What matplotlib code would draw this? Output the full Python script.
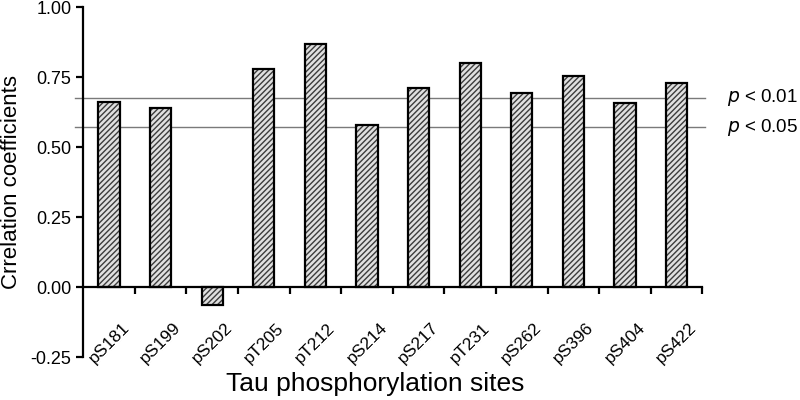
import numpy as np
import matplotlib.pyplot as plt
from matplotlib.transforms import blended_transform_factory

plt.rcParams['font.family'] = ['Liberation Sans', 'DejaVu Sans']
plt.rcParams['axes.unicode_minus'] = False

# Dados
sites = ['pS181', 'pS199', 'pS202', 'pT205', 'pT212', 'pS214',
         'pS217', 'pT231', 'pS262', 'pS396', 'pS404', 'pS422']
coef = [0.661, 0.640, -0.064, 0.778, 0.867, 0.577,
        0.709, 0.799, 0.692, 0.754, 0.657, 0.728]
p_values = [0.675, 0.570]
p_labels = ['0.01', '0.05']
y_ticks = [-0.25, 0.0, 0.25, 0.50, 0.75, 1.00]

fig = plt.figure(figsize=(8, 4), dpi=100)
ax = fig.add_axes([0.104, 0.1075, 0.774, 0.875])

x = np.arange(len(sites))
# preenchimento hachurado
ax.bar(x, coef, width=0.41, color='#e0e0e0', edgecolor='#3c3c3c',
       hatch='//////', linewidth=0, zorder=2)
# contorno preto
ax.bar(x, coef, width=0.41, fill=False, edgecolor='black',
       linewidth=1.6, zorder=3)

ax.set_xlim(-0.5, 11.5)
ax.set_ylim(-0.25, 1.0)

# linhas de significancia
trans = blended_transform_factory(ax.transAxes, ax.transData)
for val, lab in zip(p_values, p_labels):
    ax.plot([-0.013, 1.005], [val, val], color='#7a7a7a', linewidth=1.0,
            transform=trans, clip_on=False, zorder=1)
    ax.text(1.04, val, r'$\mathit{p}$ < ' + lab, transform=trans,
            ha='left', va='center', fontsize=13.5)

# eixos
for s in ['top', 'right']:
    ax.spines[s].set_visible(False)
ax.spines['bottom'].set_position(('data', 0))
ax.spines['left'].set_linewidth(1.6)
ax.spines['bottom'].set_linewidth(1.6)

ax.set_yticks(y_ticks)
ax.set_yticklabels(['%.2f' % v for v in y_ticks], fontsize=13)
ax.set_xticks(x + 0.5)
ax.set_xticklabels([])
ax.tick_params(axis='both', direction='out', length=5, width=1.6)

for i, s in enumerate(sites):
    ax.text(i, -0.20, s, rotation=45, ha='center', va='center',
            rotation_mode='anchor', fontsize=12.5)

ax.set_ylabel('Crrelation coefficients', fontsize=16, labelpad=6)
fig.text(0.469, 0.04, 'Tau phosphorylation sites', ha='center',
         va='center', fontsize=19)

plt.savefig('out.png', dpi=100)
